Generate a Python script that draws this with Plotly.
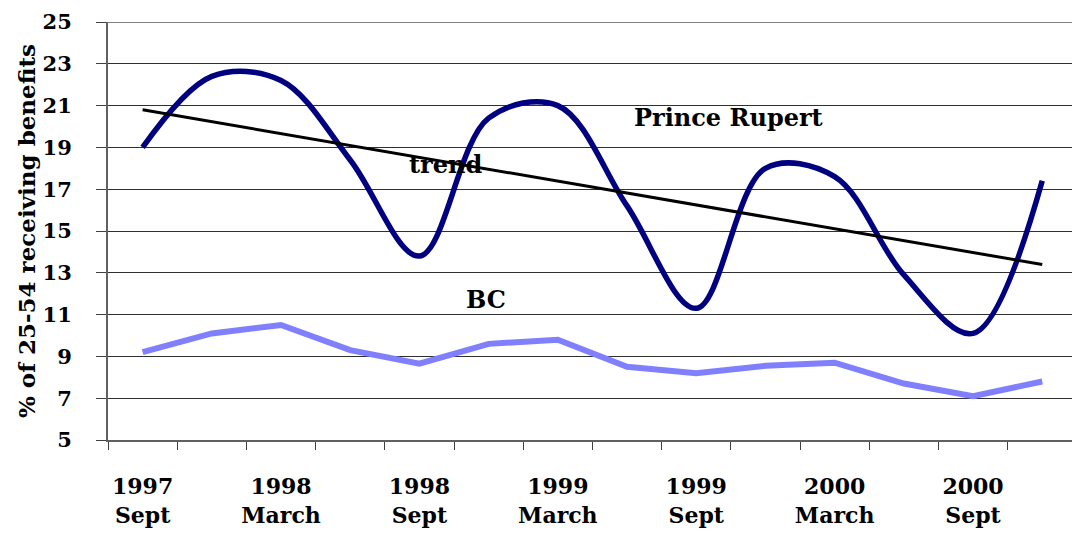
import plotly.graph_objects as go

# quarterly observations, Sept 1997 - Dec 2000
quarters = ["1997<br>Sept", "1997<br>Dec", "1998<br>March", "1998<br>June",
            "1998<br>Sept", "1998<br>Dec", "1999<br>March", "1999<br>June",
            "1999<br>Sept", "1999<br>Dec", "2000<br>March", "2000<br>June",
            "2000<br>Sept", "2000<br>Dec"]
prince_rupert = [19.0, 22.4, 22.2, 18.4, 13.8, 20.4, 21.0, 16.2, 11.3, 18.0, 17.6, 12.9, 10.1, 17.4]
bc = [9.2, 10.1, 10.5, 9.3, 8.65, 9.6, 9.8, 8.5, 8.2, 8.55, 8.7, 7.7, 7.1, 7.8]
trend_ends = [20.8, 13.4]

x = list(range(len(quarters)))
FONT = "DejaVu Serif"

fig = go.Figure()
fig.add_trace(go.Scatter(x=x, y=bc, mode="lines", line=dict(color="#8080ff", width=6), name="BC"))
fig.add_trace(go.Scatter(x=x, y=prince_rupert, mode="lines",
                         line=dict(color="#000080", width=5.5, shape="spline", smoothing=1),
                         name="Prince Rupert"))
fig.add_trace(go.Scatter(x=[x[0], x[-1]], y=trend_ends, mode="lines",
                         line=dict(color="black", width=3), name="trend"))

label_font = dict(family=FONT, size=24, color="black", weight="bold")
fig.add_annotation(x=8.46, y=20.45, text="Prince Rupert", showarrow=False, font=label_font)
fig.add_annotation(x=4.37, y=18.2, text="trend", showarrow=False, font=label_font)
fig.add_annotation(x=4.96, y=11.7, text="BC", showarrow=False, font=label_font)

# y axis title
fig.add_annotation(xref="paper", yref="paper", x=-0.085, y=0.5, xanchor="center", yanchor="middle",
                   text="% of 25-54 receiving benefits", textangle=-90, showarrow=False,
                   font=dict(family=FONT, size=23, color="black", weight="bold"))

fig.update_layout(
    width=1072, height=536,
    margin=dict(l=108, r=0, t=22, b=96),
    paper_bgcolor="white", plot_bgcolor="white",
    showlegend=False,
    font=dict(family=FONT, size=22, color="black", weight="bold"),
)
fig.update_xaxes(
    range=[-0.5, 13.43], tickvals=x[::2], ticktext=quarters[::2],
    ticks="", ticklabelstandoff=26, showgrid=False, zeroline=False, automargin=False,
    tickfont=dict(family=FONT, size=22, weight="bold"),
    showline=True, linecolor="#606060", linewidth=2,
    minor=dict(tickvals=[i - 0.5 for i in range(len(quarters) + 1)],
               ticks="outside", ticklen=8, tickcolor="#404040", tickwidth=1, showgrid=False),
)
fig.update_yaxes(
    range=[5, 25], tick0=5, dtick=2, ticks="outside", ticklen=10, tickcolor="#404040",
    showgrid=True, gridcolor="#303030", gridwidth=1, zeroline=False, automargin=False,
    showline=True, linecolor="#606060", linewidth=2,
    ticklabelstandoff=20, tickfont=dict(family=FONT, size=21, weight="bold"),
)
# gray top border of plot area
fig.add_shape(type="line", xref="paper", yref="y", x0=0, x1=1, y0=25, y1=25,
              line=dict(color="#808080", width=2))

# drop the default page margin so the figure fills the window exactly
fig.write_html("out.html", config={"displayModeBar": False},
               post_script="document.body.style.margin='0';document.body.style.overflow='hidden';")
